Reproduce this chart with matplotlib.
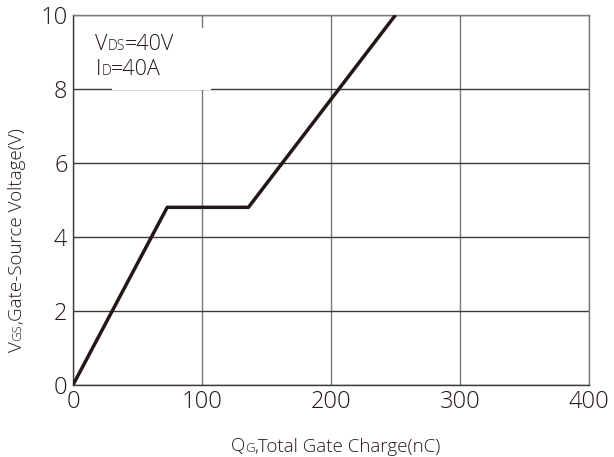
import matplotlib
matplotlib.use("Agg")
import matplotlib.pyplot as plt
from matplotlib.transforms import IdentityTransform

# gate charge curve
qg = [0, 73, 136, 250]
vgs = [0, 4.8, 4.8, 10]
x_ticks = [0, 100, 200, 300, 400]
y_ticks = [0, 2, 4, 6, 8, 10]

plt.rcParams['font.family'] = ['Open Sans', 'DejaVu Sans']
ink = '#231815'
wt = 'light'

fig = plt.figure(figsize=(6.14, 4.57), dpi=100)
ax = fig.add_axes([0.119, 0.158, 0.840, 0.809])

ax.set_xlim(0, 400)
ax.set_ylim(0, 10)
ax.set_xticks(x_ticks)
ax.set_yticks(y_ticks)
ax.tick_params(length=0, labelsize=17, colors=ink)
ax.tick_params(axis='x', pad=4)
ax.tick_params(axis='y', pad=4)
for lbl in ax.get_xticklabels() + ax.get_yticklabels():
    lbl.set_fontweight(wt)

ax.xaxis.grid(True, color='#7a7a7a', lw=1.0)
ax.yaxis.grid(True, color='#3a3a3a', lw=1.0)
ax.set_axisbelow(True)
for s in ax.spines.values():
    s.set_color('#7a7a7a')
    s.set_linewidth(1.0)
ax.spines['left'].set_color('#3a3a3a')
ax.spines['bottom'].set_color('#3a3a3a')

# white box behind the conditions text
ax.add_patch(plt.Rectangle((30, 7.98), 77, 1.68, facecolor='white',
                           edgecolor='none', zorder=1.5))

ax.plot(qg, vgs, color=ink, lw=2.5, zorder=3, solid_capstyle='butt')

fig.canvas.draw()
r = fig.canvas.get_renderer()
H = fig.bbox.height


def pieces(x, y, parts, rotation=0, center=False):
    # parts: list of (text, size); x, y in pixels from top-left, baseline start
    ts = [fig.text(0, 0, s, fontsize=fs, color=ink, fontweight=wt,
                   transform=IdentityTransform(), ha='left', va='baseline')
          for s, fs in parts]
    ws = [t.get_window_extent(r).width for t in ts]
    pos = -sum(ws) / 2 if center else 0
    for t, w in zip(ts, ws):
        if rotation:
            t.set_rotation(rotation)
            t.set_rotation_mode('anchor')
            t.set_position((x, H - y + pos))
        else:
            t.set_position((x + pos, H - y))
        pos += w


pieces(95, 50, [('V', 15.5), ('DS', 10), ('=40V', 15.5)])
pieces(96, 75, [('I', 15.5), ('D', 10), ('=40A', 15.5)])
pieces(336, 451.5, [('Q', 13.5), ('G', 9.5), (',Total Gate Charge(nC)', 13.5)], center=True)
pieces(21.5, 240, [('V', 13.5), ('GS', 9.5), (',Gate-Source Voltage(V)', 13.5)],
       rotation=90, center=True)

fig.savefig('out.png', dpi=100)
